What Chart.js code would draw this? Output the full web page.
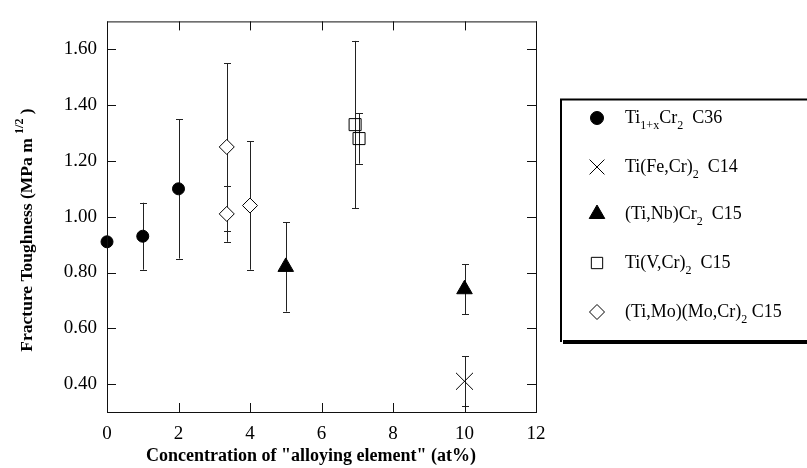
<!DOCTYPE html>
<html>
<head>
<meta charset="utf-8">
<script src="https://cdn.jsdelivr.net/npm/chart.js@4/dist/chart.umd.min.js"></script>
<style>
  html, body { margin: 0; padding: 0; background: #fff; }
  #wrap { width: 807px; height: 468px; }
</style>
</head>
<body>
<div id="wrap"><canvas id="my-chart" width="807" height="468"></canvas></div>
<script>
//Data
let c36X = [0, 1, 2];
let c36Y = [0.91, 0.93, 1.10];
let c36Err = [0, 0.12, 0.25];

let c14X = [10];
let c14Y = [0.41];
let c14Err = [0.09];

let nbX = [5, 10];
let nbY = [0.82, 0.74];
let nbErr = [0.16, 0.09];

let vX = [6.94, 7.05];
let vY = [1.33, 1.28];
let vErr = [0.30, 0.09];

let moX = [3.35, 3.35, 4.0];
let moY = [1.25, 1.01, 1.04];
let moErr = [0.30, 0.10, 0.23];

let xTicks = [0, 2, 4, 6, 8, 10, 12];
let yTicks = [0.40, 0.60, 0.80, 1.00, 1.20, 1.40, 1.60];

let serif = '"Liberation Serif", "DejaVu Serif", serif';

function toPoints(xs, ys, errs) {
  let pts = [];
  for (let i = 0; i < xs.length; i++) {
    pts.push({ x: xs[i], y: ys[i], err: errs[i] });
  }
  return pts;
}

let seriesList = [
  { name: ['Ti', '1+x', 'Cr', '2', '  C36'], data: toPoints(c36X, c36Y, c36Err), style: 'circle', radius: 6, fill: '#000', legendRadius: 6.5 },
  { name: ['Ti(Fe,Cr)', '2', '  C14'], data: toPoints(c14X, c14Y, c14Err), style: 'crossRot', radius: 12, fill: '#000', legendRadius: 10.5 },
  { name: ['(Ti,Nb)Cr', '2', '  C15'], data: toPoints(nbX, nbY, nbErr), style: 'triangle', radius: 9, fill: '#000', legendRadius: 9 },
  { name: ['Ti(V,Cr)', '2', '  C15'], data: toPoints(vX, vY, vErr), style: 'rect', radius: 8.5, fill: 'rgba(0,0,0,0)', legendRadius: 8 },
  { name: ['(Ti,Mo)(Mo,Cr)', '2', ' C15'], data: toPoints(moX, moY, moErr), style: 'rectRot', radius: 7.5, fill: '#fff', legendRadius: 7.5 }
];

//error bars, frame and inward ticks
let errorBarPlugin = {
  id: 'errorBars',
  beforeDatasetsDraw(chart) {
    let c = chart.ctx;
    let xs = chart.scales.x;
    let ys = chart.scales.y;
    c.save();
    c.strokeStyle = '#222';
    c.lineWidth = 1;
    for (let s of seriesList) {
      for (let p of s.data) {
        if (!p.err) continue;
        let px = Math.round(xs.getPixelForValue(p.x)) + 0.5;
        let top = ys.getPixelForValue(p.y + p.err);
        let bot = ys.getPixelForValue(p.y - p.err);
        c.beginPath();
        c.moveTo(px, top);
        c.lineTo(px, bot);
        c.moveTo(px - 3.5, Math.round(top) + 0.5);
        c.lineTo(px + 3.5, Math.round(top) + 0.5);
        c.moveTo(px - 3.5, Math.round(bot) + 0.5);
        c.lineTo(px + 3.5, Math.round(bot) + 0.5);
        c.stroke();
      }
    }
    c.restore();
  },
  afterDraw(chart) {
    let c = chart.ctx;
    let a = chart.chartArea;
    let xs = chart.scales.x;
    let ys = chart.scales.y;
    c.save();
    c.strokeStyle = '#111';
    c.lineWidth = 1;
    c.strokeRect(a.left + 0.5, a.top + 0.5, a.right - a.left, a.bottom - a.top);
    c.beginPath();
    for (let v of xTicks) {
      let px = Math.round(xs.getPixelForValue(v)) + 0.5;
      c.moveTo(px, a.bottom);
      c.lineTo(px, a.bottom - 9);
      c.moveTo(px, a.top);
      c.lineTo(px, a.top + 9);
    }
    for (let v of yTicks) {
      let py = Math.round(ys.getPixelForValue(v)) + 0.5;
      c.moveTo(a.left, py);
      c.lineTo(a.left + 9, py);
      c.moveTo(a.right, py);
      c.lineTo(a.right - 9, py);
    }
    c.stroke();

    //axis titles
    c.fillStyle = '#000';
    c.textBaseline = 'alphabetic';
    c.font = 'bold 18px ' + serif;
    c.textAlign = 'center';
    c.fillText('Concentration of "alloying element" (at%)', 311, 461);

    c.translate(32, 230);
    c.rotate(-Math.PI / 2);
    c.textAlign = 'left';
    let main = 'Fracture Toughness (MPa m ';
    let sup = '1/2';
    c.font = 'bold 17.5px ' + serif;
    let w1 = c.measureText(main).width;
    c.font = 'bold 12px ' + serif;
    let w2 = c.measureText(sup).width;
    c.font = 'bold 17.5px ' + serif;
    let w3 = c.measureText(' )').width;
    let x0 = -(w1 + w2 + w3) / 2;
    c.fillText(main, x0, 0);
    c.font = 'bold 12px ' + serif;
    c.fillText(sup, x0 + w1, -9);
    c.font = 'bold 17.5px ' + serif;
    c.fillText(' )', x0 + w1 + w2, 0);
    c.restore();

    //legend box
    c.save();
    c.fillStyle = '#000';
    c.fillRect(563, 340, 250, 4);
    c.strokeStyle = '#000';
    c.lineWidth = 2;
    c.beginPath();
    c.moveTo(561, 342);
    c.lineTo(561, 99.5);
    c.lineTo(810, 99.5);
    c.stroke();
    c.lineWidth = 1;

    let rowY = [118, 167, 214, 263, 312];
    for (let i = 0; i < seriesList.length; i++) {
      let s = seriesList[i];
      c.lineWidth = 1;
      c.strokeStyle = '#000';
      c.fillStyle = s.fill;
      Chart.helpers.drawPoint(c, { pointStyle: s.style, radius: s.legendRadius, borderWidth: 1 }, 597, rowY[i]);
      let tx = 625;
      c.fillStyle = '#000';
      c.textAlign = 'left';
      c.textBaseline = 'middle';
      for (let k = 0; k < s.name.length; k++) {
        let isSub = k % 2 === 1;
        c.font = (isSub ? '12px ' : '18px ') + serif;
        c.fillText(s.name[k], tx, rowY[i] + (isSub ? 8 : 0));
        tx += c.measureText(s.name[k]).width;
      }
    }
    c.restore();
  }
};

let ctx = document.getElementById('my-chart');

let datasets = [];
for (let s of seriesList) {
  datasets.push({
    label: s.name.join(''),
    data: s.data,
    pointStyle: s.style,
    pointRadius: s.radius,
    pointHoverRadius: s.radius,
    backgroundColor: s.fill,
    borderColor: '#000',
    pointBorderWidth: 1,
    showLine: false,
    clip: false
  });
}

let chartObject = {
  type: 'scatter',
  data: { datasets: datasets },
  options: {
    responsive: false,
    animation: false,
    devicePixelRatio: 1,
    layout: { padding: { top: 13, right: 271, left: 0, bottom: 0 } },
    plugins: {
      legend: { display: false },
      tooltip: { enabled: false }
    },
    scales: {
      x: {
        type: 'linear',
        min: 0,
        max: 12,
        afterBuildTicks(scale) { scale.ticks = xTicks.map(v => ({ value: v })); },
        afterFit(scale) { scale.height = 56; },
        grid: { display: false, drawTicks: false },
        border: { display: false },
        ticks: {
          padding: 11,
          color: '#000',
          font: { family: serif, size: 19 },
          callback: v => String(v)
        }
      },
      y: {
        type: 'linear',
        min: 0.3,
        max: 1.7,
        afterBuildTicks(scale) { scale.ticks = yTicks.map(v => ({ value: v })); },
        afterFit(scale) { scale.width = 107; },
        grid: { display: false, drawTicks: false },
        border: { display: false },
        ticks: {
          padding: 10,
          color: '#000',
          font: { family: serif, size: 19 },
          callback: v => v.toFixed(2)
        }
      }
    }
  },
  plugins: [errorBarPlugin]
};

const myChart = new Chart(ctx, chartObject); //eslint-disable-line
</script>
</body>
</html>
